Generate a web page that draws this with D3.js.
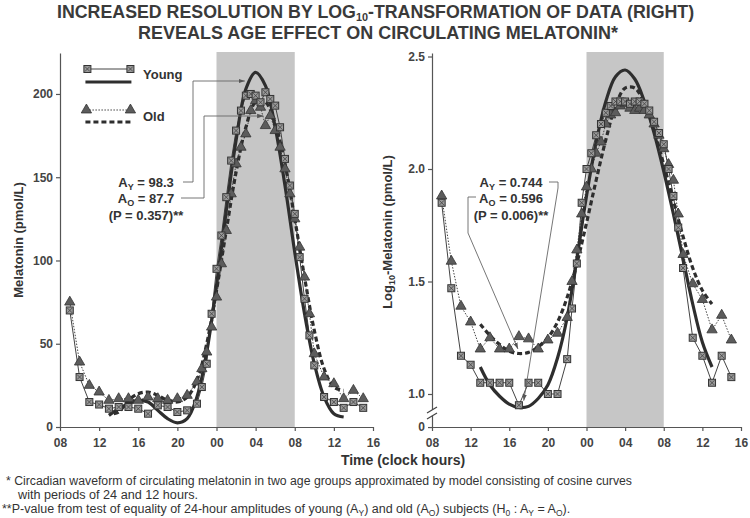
<!DOCTYPE html>
<html><head><meta charset="utf-8">
<script src="https://cdn.jsdelivr.net/npm/d3@7"></script>
<style>body{margin:0;background:#fff} svg{display:block}</style>
</head><body><svg id="c" width="750" height="518"></svg>
<script>
// ---------- data ----------
const xTickValues = [8,12,16,20,24,28,32,36,40];
const xTickLabels = ["08","12","16","20","00","04","08","12","16"];
const darkStart = 24, darkEnd = 32;

// Left panel (pmol/L): observed means [clock hour from 08 day1, value]
const youngRaw = [[9,70],[10,30],[11,15],[12,13.5],[13,11],[14,12],[15,12],[16,11],[17,8],[18,13],[19,12],[20,9],[21,10],[22,14],[22.5,24],[23,38],[23.5,68],[24,95],[24.5,115],[25,138],[25.5,160],[26,178],[26.5,190],[27,199],[27.5,200],[28,199],[28.5,195],[29,201],[29.5,197],[30,193],[30.5,180],[31,161],[31.5,145],[32,128],[32.5,102],[33,77],[33.5,55],[34,37],[35,18],[36,15],[37,11.5],[38,15],[39,11.5]];
const oldRaw = [[9,75],[10,39],[11,25],[12,21],[13,16],[14,17],[15,17],[16,16],[17,18],[18,17],[19,16],[20,17],[21,19],[22,27],[22.5,35],[23,45],[23.5,60],[24,78],[24.5,98],[25,118],[25.5,140],[26,158],[26.5,168],[27,176],[27.5,190],[28,196],[28.5,192],[29,181],[29.5,187],[30,178],[30.5,168],[31,155],[31.5,140],[32,125],[32.5,108],[33,90],[33.5,68],[34,44],[35,30],[36,26],[37,17],[38,22],[39,17]];
const youngFit = [[13,7],[14,11],[15,14],[16,16],[17,15],[18,10],[19,5],[20,2.5],[21,5],[22,18],[23,45],[24,85],[25,130],[26,172],[27,203],[28,213],[29,205],[30,180],[31,145],[32,105],[33,68],[34,38],[35,18],[36,8],[37,6]];
const oldFit = [[13.5,8],[14,9],[15,16],[16,20],[17,21],[18,19],[19,16],[20,15],[21,18],[22,28],[23,50],[24,82],[25,118],[26,153],[27,180],[28,195],[29,195],[30,182],[31,158],[32,125],[33,90],[34,58],[35,35],[36,24],[37,22]];

// Right panel (log10 pmol/L)
const youngLog = [[9,1.85],[10,1.47],[11,1.17],[12,1.13],[13,1.05],[14,1.05],[15,1.05],[16,1.05],[17,0.95],[18,1.05],[19,1.05],[20,1.0],[21,1.0],[22,1.155],[22.5,1.38],[23,1.58],[23.5,1.85],[24,2.0],[24.5,2.07],[25,2.15],[25.5,2.2],[26,2.25],[26.5,2.28],[27,2.3],[27.5,2.3],[28,2.3],[28.5,2.29],[29,2.3],[29.5,2.3],[30,2.29],[30.5,2.26],[31,2.21],[31.5,2.16],[32,2.11],[32.5,2.0],[33,1.88],[33.5,1.74],[34,1.56],[35,1.25],[36,1.17],[37,1.05],[38,1.17],[39,1.075]];
const oldLog = [[9,1.88],[10,1.59],[11,1.39],[12,1.32],[13,1.2],[14,1.25],[15,1.2],[16,1.2],[17,1.255],[18,1.245],[19,1.2],[20,1.24],[21,1.27],[22,1.34],[22.5,1.5],[23,1.64],[23.5,1.8],[24,1.92],[24.5,2.0],[25,2.07],[25.5,2.12],[26,2.2],[26.5,2.24],[27,2.25],[27.5,2.28],[28,2.29],[28.5,2.27],[29,2.26],[29.5,2.27],[30,2.26],[30.5,2.24],[31,2.2],[31.5,2.15],[32,2.09],[32.5,2.02],[33,1.95],[33.5,1.8],[34,1.62],[35,1.49],[36,1.42],[37,1.285],[38,1.35],[39,1.24]];
const youngLogFit = [[13,1.12],[14,1.04],[15,0.99],[16,0.955],[17,0.94],[18,0.945],[19,0.98],[20,1.04],[21,1.16],[22,1.34],[23,1.6],[24,1.88],[25,2.12],[26,2.3],[27,2.41],[28,2.44],[29,2.4],[30,2.3],[31,2.16],[32,1.99],[33,1.8],[34,1.6],[35,1.4],[36,1.23],[37,1.12]];
const oldLogFit = [[13,1.31],[14,1.26],[15,1.22],[16,1.19],[17,1.18],[18,1.185],[19,1.21],[20,1.25],[21,1.32],[22,1.43],[23,1.58],[24,1.76],[25,1.95],[26,2.13],[27,2.28],[28,2.36],[29,2.36],[30,2.29],[31,2.17],[32,2.02],[33,1.86],[34,1.7],[35,1.56],[36,1.46],[37,1.4]];

const leftYTicks = [0,50,100,150,200];
const rightYTicks = [0.853,1,1.5,2,2.5];

// ---------- drawing ----------
const svg = d3.select("#c");
const INK = "#2e2e2e";
const FONT = "'Liberation Sans', Arial, sans-serif";
const NARROW = "'Liberation Sans Narrow', 'Liberation Sans', Arial, sans-serif";

const defs = svg.append("defs");
defs.append("marker").attr("id","arr").attr("viewBox","0 0 10 10").attr("refX",10).attr("refY",5)
  .attr("markerWidth",7).attr("markerHeight",7).attr("orient","auto-start-reverse")
  .append("path").attr("d","M0,1.5 L10,5 L0,8.5 Z").attr("fill","#555");

// Title
const title = svg.append("g").attr("font-family",NARROW).attr("font-weight","bold").attr("fill","#3a3a3a").attr("font-size",18);
const tg = title.append("g");
const t1 = tg.append("text").attr("x",0).attr("y",18);
t1.append("tspan").text("INCREASED RESOLUTION BY LOG");
t1.append("tspan").attr("font-size",11).attr("dy",3).text("10");
t1.append("tspan").attr("dy",-3).text("-TRANSFORMATION OF DATA (RIGHT)");
const w1 = t1.node().getComputedTextLength() || 638;
tg.attr("transform",`translate(57,0) scale(${638/w1},1)`);
title.append("text").attr("x",138).attr("y",39).attr("textLength",480).attr("lengthAdjust","spacingAndGlyphs")
  .text("REVEALS AGE EFFECT ON CIRCULATING MELATONIN*");

function panel(cfg){
  const g = svg.append("g");
  const x = d3.scaleLinear().domain([8,40]).range(cfg.xr);
  const y = d3.scaleLinear().domain(cfg.yd).range([427,53]);
  g.append("rect").attr("x",x(darkStart)).attr("y",52).attr("width",x(darkEnd)-x(darkStart)).attr("height",427-52)
    .attr("fill","#c6c6c6");
  const xa = g.append("g").attr("transform","translate(0,427)")
    .call(d3.axisBottom(x).tickValues(xTickValues).tickFormat((d,i)=>xTickLabels[i]).tickSize(4).tickSizeOuter(0));
  const ya = g.append("g").attr("transform",`translate(${cfg.xr[0]},0)`)
    .call(d3.axisLeft(y).tickValues(cfg.yt).tickFormat(cfg.yf).tickSize(4).tickSizeOuter(0));
  [xa,ya].forEach(a=>{
    a.selectAll("path,line").attr("stroke","#555").attr("stroke-width",1.2);
    a.selectAll("text").attr("font-family",FONT).attr("font-weight","bold").attr("font-size",12).attr("fill","#444");
  });
  xa.selectAll("text").attr("dy","1.05em");
  const line = d3.line().x(d=>x(d[0])).y(d=>y(d[1]));
  const cline = d3.line().x(d=>x(d[0])).y(d=>y(d[1])).curve(d3.curveCatmullRom);
  g.append("path").attr("d",line(cfg.young)).attr("fill","none").attr("stroke","#444").attr("stroke-width",1);
  g.append("path").attr("d",line(cfg.old)).attr("fill","none").attr("stroke","#444").attr("stroke-width",1).attr("stroke-dasharray","1.5,1.5");
  g.append("path").attr("d",cline(cfg.youngFit)).attr("fill","none").attr("stroke",INK).attr("stroke-width",3.2);
  g.append("path").attr("d",cline(cfg.oldFit)).attr("fill","none").attr("stroke",INK).attr("stroke-width",3.2).attr("stroke-dasharray","5,3");
  const tri = d3.symbol().type(d3.symbolTriangle).size(46);
  g.selectAll(".tri").data(cfg.old).join("path").attr("d",tri)
    .attr("transform",d=>`translate(${x(d[0])},${y(d[1])})`).attr("fill","#5c5c5c").attr("stroke","#333").attr("stroke-width",0.8);
  const sq = g.selectAll(".sq").data(cfg.young).join("g").attr("transform",d=>`translate(${x(d[0])},${y(d[1])})`);
  drawSquare(sq);
  return {g,x,y};
}
function drawSquare(sel){
  sel.append("rect").attr("x",-3.5).attr("y",-3.5).attr("width",7).attr("height",7).attr("fill","#999").attr("stroke","#333").attr("stroke-width",1);
  sel.append("path").attr("d","M-2.5,-2.5L2.5,2.5M-2.5,2.5L2.5,-2.5").attr("stroke","#444").attr("stroke-width",0.8);
}

const L = panel({xr:[60,373], yd:[0,224.6], yt:leftYTicks, yf:d3.format("d"),
  young:youngRaw, old:oldRaw, youngFit:youngFit, oldFit:oldFit});
const R = panel({xr:[432,741], yd:[0.8533,2.5156], yt:rightYTicks, yf:d=>d<0.9?"0":d3.format(".1f")(d),
  young:youngLog, old:oldLog, youngFit:youngLogFit, oldFit:oldLogFit});

// axis break on right y axis
const br = svg.append("g");
br.append("rect").attr("x",429).attr("y",410).attr("width",6).attr("height",6).attr("fill","#fff");
[410,416].forEach(yy=>br.append("line").attr("x1",427).attr("y1",yy+3).attr("x2",437).attr("y2",yy-3).attr("stroke","#444").attr("stroke-width",1.2));

// axis titles
const at = svg.append("g").attr("font-family",FONT).attr("font-weight","bold").attr("fill","#333");
at.append("text").attr("transform","translate(23,240) rotate(-90)").attr("text-anchor","middle").attr("font-size",13).text("Melatonin (pmol/L)");
const rl = at.append("text").attr("transform","translate(392,232) rotate(-90)").attr("text-anchor","middle").attr("font-size",13);
rl.append("tspan").text("Log");
rl.append("tspan").attr("font-size",9).attr("dy",3).text("10");
rl.append("tspan").attr("dy",-3).text("-Melatonin (pmol/L)");
at.append("text").attr("x",403).attr("y",465).attr("text-anchor","middle").attr("font-size",14).text("Time (clock hours)");

// legend
const lg = svg.append("g");
lg.append("line").attr("x1",L.x(10.8)).attr("x2",L.x(15.2)).attr("y1",69).attr("y2",69).attr("stroke","#444");
drawSquare(lg.selectAll(".ls").data([10.8,15.2]).join("g").attr("transform",d=>`translate(${L.x(d)},69)`));
lg.append("line").attr("x1",L.x(10.6)).attr("x2",L.x(15.3)).attr("y1",82).attr("y2",82).attr("stroke",INK).attr("stroke-width",3);
lg.append("line").attr("x1",L.x(10.7)).attr("x2",L.x(15.2)).attr("y1",110).attr("y2",110).attr("stroke","#444").attr("stroke-dasharray","1.5,1.5");
lg.selectAll(".lt").data([10.7,15.2]).join("path").attr("d",d3.symbol().type(d3.symbolTriangle).size(46))
  .attr("transform",d=>`translate(${L.x(d)},110)`).attr("fill","#5c5c5c").attr("stroke","#333").attr("stroke-width",0.8);
lg.append("line").attr("x1",L.x(10.6)).attr("x2",L.x(15.3)).attr("y1",122).attr("y2",122).attr("stroke",INK).attr("stroke-width",3).attr("stroke-dasharray","5,3");
lg.append("text").attr("x",143).attr("y",79).attr("font-family",FONT).attr("font-weight","bold").attr("font-size",13).attr("fill","#333").text("Young");
lg.append("text").attr("x",143).attr("y",121).attr("font-family",FONT).attr("font-weight","bold").attr("font-size",13).attr("fill","#333").text("Old");

// annotations
function annot(cx, lines){
  const g = svg.append("g").attr("font-family",FONT).attr("font-weight","bold").attr("font-size",13).attr("fill","#333").attr("text-anchor","middle");
  lines.forEach(([y,parts])=>{
    const t = g.append("text").attr("x",cx).attr("y",y);
    parts.forEach(p=>{
      const s = t.append("tspan").text(p.t);
      if(p.sub){ s.attr("font-size",9).attr("dy",3); } else if(p.up){ s.attr("dy",-3); }
    });
  });
}
annot(146,[[187,[{t:"A"},{t:"Y",sub:1},{t:" = 98.3",up:1}]],[203,[{t:"A"},{t:"O",sub:1},{t:" = 87.7",up:1}]],[220,[{t:"(P = 0.357)**"}]]]);
annot(511,[[187,[{t:"A"},{t:"Y",sub:1},{t:" = 0.744",up:1}]],[203,[{t:"A"},{t:"O",sub:1},{t:" = 0.596",up:1}]],[220,[{t:"(P = 0.006)**"}]]]);

const ll = svg.append("g").attr("fill","none").attr("stroke","#666").attr("stroke-width",0.9);
ll.append("path").attr("d",`M183,182H193V81H${L.x(26.9)}`).attr("marker-end","url(#arr)");
ll.append("path").attr("d",`M181,198H204V116H${L.x(28.8)}`).attr("marker-end","url(#arr)");
ll.append("path").attr("d",`M549,182H558V188L${R.x(17.5)},${R.y(0.97)}`).attr("marker-end","url(#arr)");
ll.append("path").attr("d",`M476,197H468V233L${R.x(16.9)},${R.y(1.2)}`).attr("marker-end","url(#arr)");

// footnotes
const fn = svg.append("g").attr("font-family",NARROW).attr("font-size",12.5).attr("fill","#333");
fn.append("text").attr("x",6).attr("y",485).attr("textLength",626).attr("lengthAdjust","spacingAndGlyphs")
  .text("*  Circadian waveform of circulating melatonin in two age groups approximated by model consisting of cosine curves");
fn.append("text").attr("x",18).attr("y",499).attr("textLength",180).attr("lengthAdjust","spacingAndGlyphs").text("with periods of 24 and 12 hours.");
const f3 = fn.append("text").attr("x",2).attr("y",513);
[["**P-value from test of equality of 24-hour amplitudes of young (A"],["Y",1],[") and old (A"],["O",1],[") subjects (H"],["0",1],[" : A"],["Y",1],[" = A"],["O",1],[")."]]
  .forEach(([t,s],i,arr)=>{
    const sp = f3.append("tspan").text(t);
    if(s) sp.attr("font-size",8.5).attr("dy",3);
    else if(i>0 && arr[i-1][1]) sp.attr("dy",-3);
  });
</script></body></html>
